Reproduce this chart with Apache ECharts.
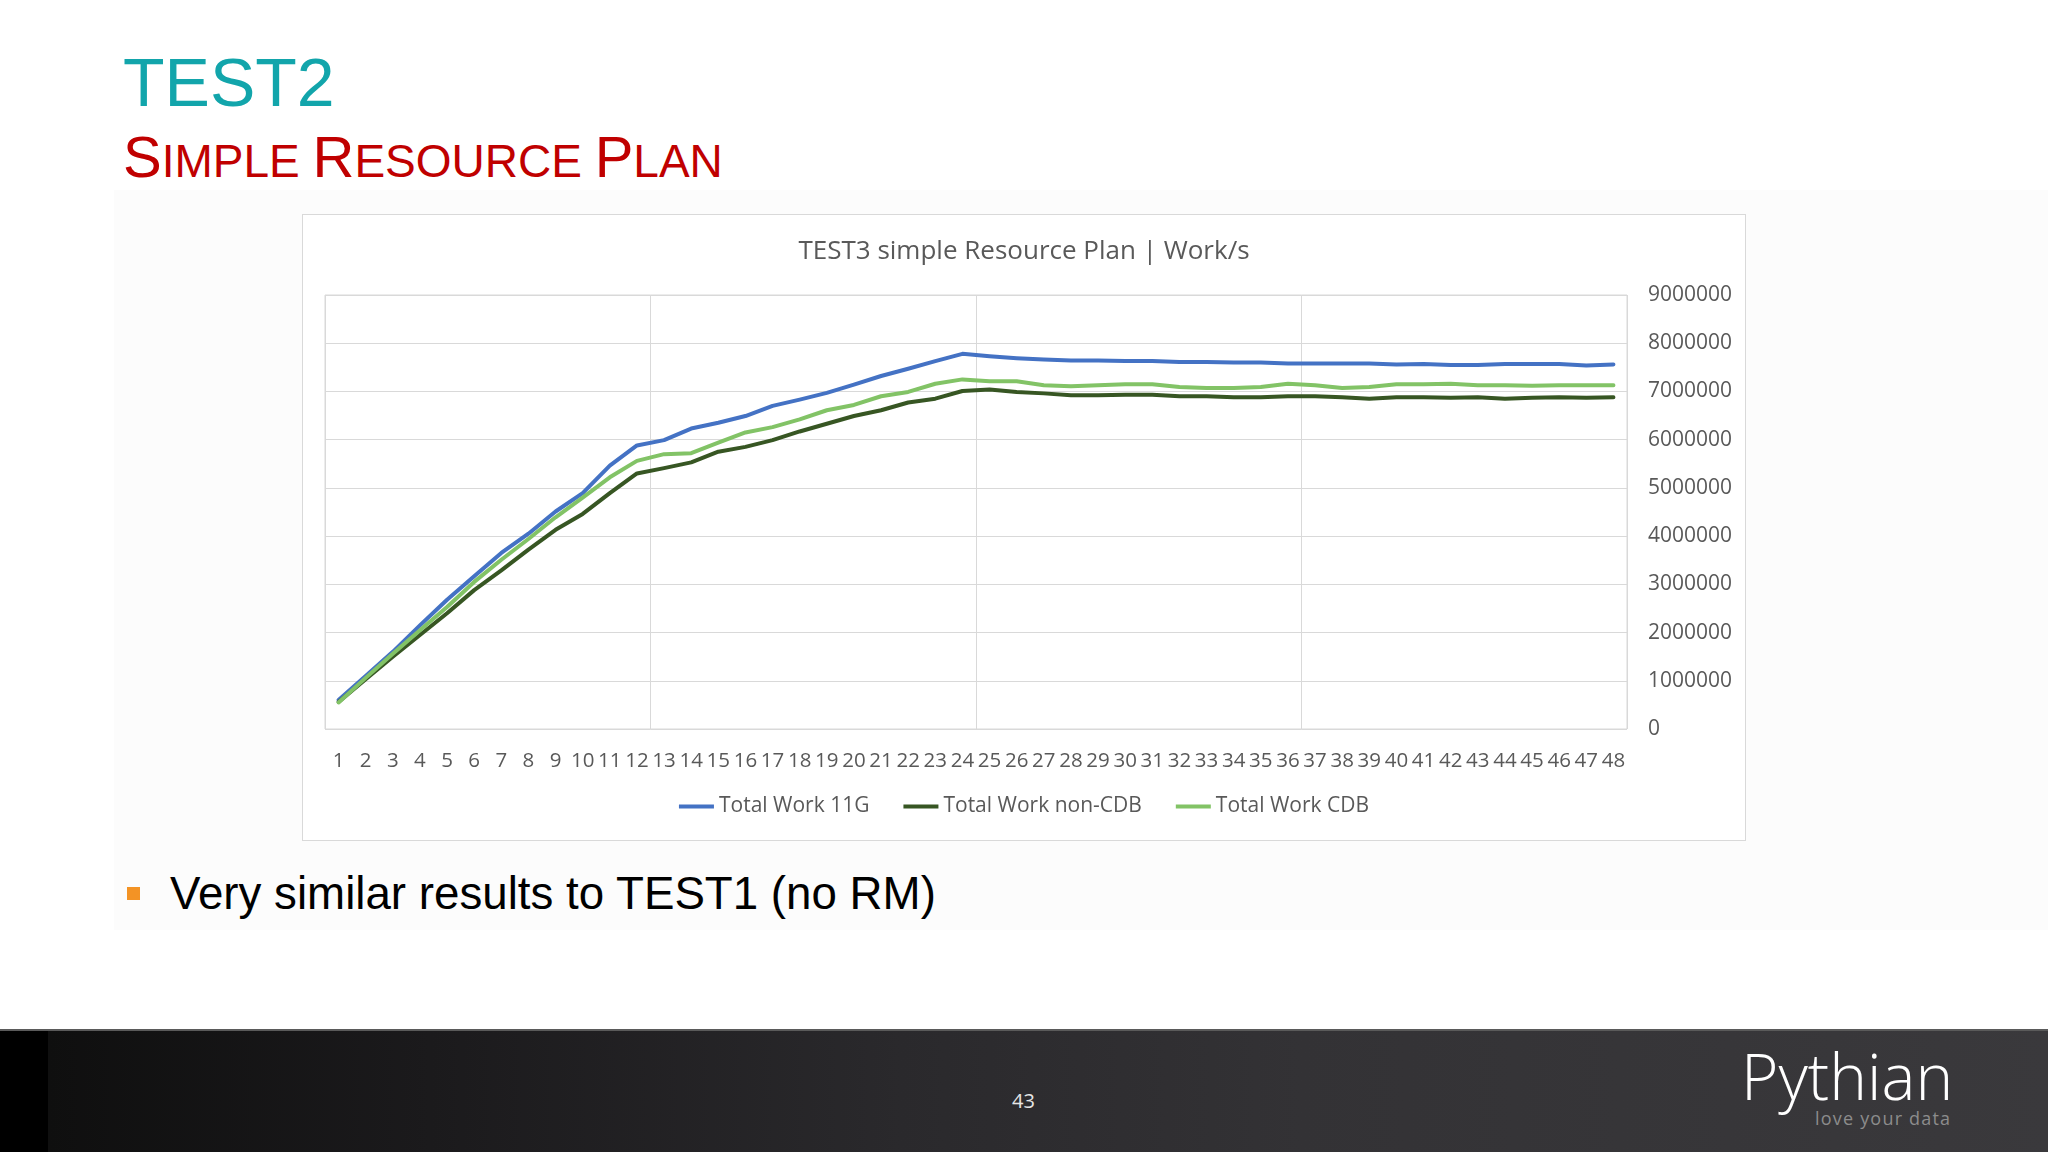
<!DOCTYPE html>
<html>
<head>
<meta charset="utf-8">
<script src="https://cdn.jsdelivr.net/npm/echarts@6/dist/echarts.min.js"></script>
<style>
  html, body { margin: 0; padding: 0; }
  body { width: 2048px; height: 1152px; position: relative; overflow: hidden; background: #ffffff; font-family: "Liberation Sans", Arial, sans-serif; }
  #panel { position: absolute; left: 114px; top: 190px; width: 1934px; height: 740px; background: #fcfcfc; }
  #title1 { position: absolute; left: 123px; top: 48px; font-size: 68px; color: #12a5ab; line-height: 1; }
  #title2 { position: absolute; left: 123px; top: 128px; font-size: 58px; color: #c00000; line-height: 1; }
  #title2 .sm { font-size: 46px; }
  #chartbox { position: absolute; left: 302px; top: 214px; width: 1442px; height: 625px; border: 1px solid #d9d9d9; background: #ffffff; }
  #chart { width: 1442px; height: 625px; }
  #bullet { position: absolute; left: 127px; top: 887px; width: 13px; height: 13px; background: #f39325; }
  #btext { position: absolute; left: 170px; top: 869px; font-size: 45.7px; color: #000; line-height: 1.1; }
  #footer { position: absolute; left: 0; top: 1029px; width: 2048px; height: 123px;
    background: linear-gradient(to right, #000 0px, #000 48px, #0f0f0f 48px, #1b1a1c 430px, #2a292c 900px, #333235 1300px, #3a393c 2048px);
    border-top: 2px solid #5a5a5a; }
  #page { position: absolute; left: 1012px; top: 1087px; font-size: 20px; color: #e6e6e6; font-family: "Open Sans", sans-serif; }
  #logo { position: absolute; left: 1741px; top: 1044px; font-size: 64px; color: #ffffff; font-family: "Open Sans", sans-serif; font-weight: 300; line-height: 1; }
  #tag { position: absolute; left: 1815px; top: 1106px; font-size: 18px; color: #8c8c8c; font-family: "Open Sans", sans-serif; letter-spacing: 1.2px; }
</style>
</head>
<body>
<div id="panel"></div>
<div id="title1">TEST2</div>
<div id="title2">S<span class="sm">IMPLE </span>R<span class="sm">ESOURCE </span>P<span class="sm">LAN</span></div>
<div id="chartbox"><div id="chart"></div></div>
<div id="bullet"></div>
<div id="btext">Very similar results to TEST1 (no RM)</div>
<div id="footer"></div>
<div id="page">43</div>
<div id="logo">Pythian</div>
<div id="tag">love your data</div>
<script>
// ---- data ----
const categories = ["1","2","3","4","5","6","7","8","9","10","11","12","13","14","15","16","17","18","19","20","21","22","23","24","25","26","27","28","29","30","31","32","33","34","35","36","37","38","39","40","41","42","43","44","45","46","47","48"];
const work11G = [600000,1100000,1600000,2150000,2680000,3170000,3650000,4050000,4510000,4890000,5460000,5880000,5990000,6230000,6350000,6490000,6700000,6830000,6970000,7140000,7320000,7470000,7630000,7780000,7730000,7690000,7660000,7640000,7640000,7630000,7630000,7610000,7610000,7600000,7600000,7580000,7580000,7580000,7580000,7560000,7570000,7550000,7550000,7570000,7570000,7570000,7540000,7560000];
const workNonCDB = [560000,1030000,1500000,1950000,2400000,2880000,3290000,3720000,4130000,4460000,4890000,5300000,5410000,5530000,5750000,5850000,5990000,6170000,6330000,6490000,6610000,6770000,6850000,7010000,7040000,6990000,6960000,6920000,6920000,6930000,6930000,6900000,6900000,6880000,6880000,6900000,6900000,6880000,6850000,6880000,6880000,6870000,6880000,6850000,6870000,6880000,6870000,6880000];
const workCDB = [550000,1060000,1560000,2050000,2530000,3050000,3510000,3940000,4390000,4800000,5220000,5560000,5700000,5720000,5940000,6150000,6260000,6420000,6610000,6720000,6900000,6990000,7160000,7250000,7210000,7210000,7130000,7110000,7130000,7150000,7150000,7090000,7070000,7070000,7090000,7160000,7130000,7070000,7090000,7150000,7150000,7160000,7130000,7130000,7120000,7130000,7130000,7130000];
const yTicks = { min: 0, max: 9000000, step: 1000000 };

const chart = echarts.init(document.getElementById('chart'), null, { renderer: 'canvas' });
const labelFont = '"Open Sans", sans-serif';
function mkSeries(name, data, color) {
  return { name, type: 'line', data, symbol: 'none', smooth: false,
    lineStyle: { color, width: 4, cap: 'round', join: 'round' }, itemStyle: { color } };
}
chart.setOption({
  animation: false,
  backgroundColor: '#ffffff',
  title: { text: 'TEST3 simple Resource Plan | Work/s', left: 'center', top: 19,
    textStyle: { color: '#595959', fontFamily: labelFont, fontSize: 26, fontWeight: 'normal' } },
  legend: { bottom: 18, left: 'center', itemWidth: 35, itemHeight: 4, itemGap: 34, icon: 'rect',
    textStyle: { color: '#595959', fontFamily: labelFont, fontSize: 21 },
    data: ['Total Work 11G', 'Total Work non-CDB', 'Total Work CDB'] },
  grid: { left: 22, right: 118, top: 80, bottom: 111, show: true, borderColor: '#d9d9d9', borderWidth: 1, containLabel: false },
  xAxis: { type: 'category', data: categories, boundaryGap: true,
    axisLine: { show: false }, axisTick: { show: false },
    axisLabel: { color: '#595959', fontFamily: labelFont, fontSize: 20.5, interval: 0, margin: 22 },
    splitLine: { show: true, interval: (i) => i % 12 === 0, lineStyle: { color: '#d9d9d9', width: 1 } } },
  yAxis: { type: 'value', position: 'right', min: yTicks.min, max: yTicks.max, interval: yTicks.step,
    axisLine: { show: false }, axisTick: { show: false },
    axisLabel: { color: '#595959', fontFamily: labelFont, fontSize: 21, margin: 21, formatter: (v) => String(v) },
    splitLine: { show: true, lineStyle: { color: '#d9d9d9', width: 1 } } },
  series: [
    mkSeries('Total Work 11G', work11G, '#4472c4'),
    mkSeries('Total Work non-CDB', workNonCDB, '#375623'),
    mkSeries('Total Work CDB', workCDB, '#82c366')
  ]
});
</script>
</body>
</html>
